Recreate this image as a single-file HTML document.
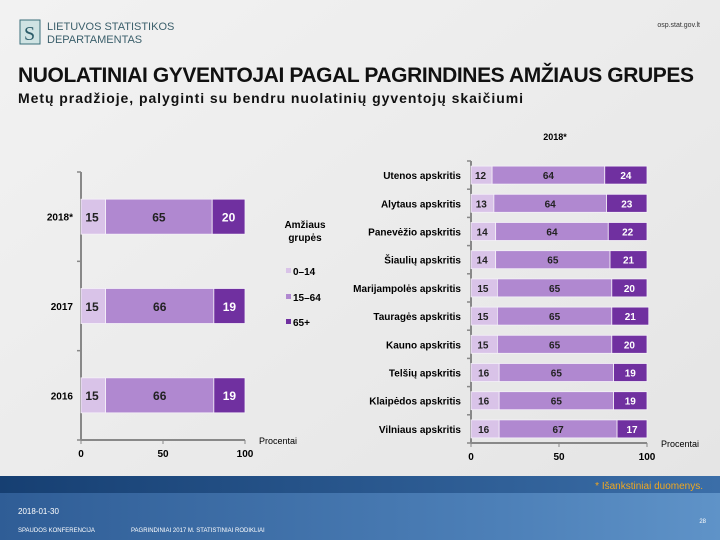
<!DOCTYPE html>
<html><head><meta charset="utf-8"><style>
body{margin:0;width:720px;height:540px;overflow:hidden;background:#ececec;font-family:"Liberation Sans",sans-serif}
svg{display:block}
</style></head><body>
<svg id="s" width="720" height="540">
<defs>
<linearGradient id="bg" x1="0" y1="0" x2="1" y2="1"><stop offset="0" stop-color="#f2f2f2"/><stop offset="1" stop-color="#e4e4e4"/></linearGradient>
<linearGradient id="ft" x1="0" y1="0" x2="1" y2="0"><stop offset="0" stop-color="#2f5d96"/><stop offset="0.7" stop-color="#4d80b8"/><stop offset="1" stop-color="#5f93c8"/></linearGradient>
<linearGradient id="ft2" x1="0" y1="0" x2="1" y2="0"><stop offset="0" stop-color="#163f72"/><stop offset="1" stop-color="#3b6ea8"/></linearGradient>
</defs>
<rect width="720" height="540" fill="url(#bg)"/>
<g>
<rect x="20" y="20" width="20" height="24" fill="#cfe3e3" stroke="#3a6f7a"/>
<text x="24" y="40" font-size="20" fill="#2c5d6a" font-family="Liberation Serif">S</text>
<text x="47" y="30" font-size="11" fill="#3b5f6b">LIETUVOS STATISTIKOS</text>
<text x="47" y="43" font-size="11" fill="#3b5f6b">DEPARTAMENTAS</text>
</g>
<text x="700" y="27" font-size="7" fill="#333" text-anchor="end">osp.stat.gov.lt</text>
<text x="18" y="82" font-size="21" font-weight="bold" fill="#111" textLength="676">NUOLATINIAI GYVENTOJAI PAGAL PAGRINDINES AMŽIAUS GRUPES</text>
<text x="18" y="103" font-size="14" font-weight="bold" fill="#111" textLength="505">Metų pradžioje, palyginti su bendru nuolatinių gyventojų skaičiumi</text>
<g id="left"></g>
<g id="right"></g>
<g>
<text x="305" y="228" font-size="10" font-weight="bold" text-anchor="middle">Amžiaus</text>
<text x="305" y="241" font-size="10" font-weight="bold" text-anchor="middle">grupės</text>
<rect x="286" y="268" width="5" height="5" fill="#d9c3e8"/><text x="293" y="275" font-size="10" font-weight="bold">0–14</text>
<rect x="286" y="294" width="5" height="5" fill="#b088d0"/><text x="293" y="301" font-size="10" font-weight="bold">15–64</text>
<rect x="286" y="319" width="5" height="5" fill="#7030a0"/><text x="293" y="326" font-size="10" font-weight="bold">65+</text>
</g>
<text x="555" y="140" font-size="9" font-weight="bold" text-anchor="middle">2018*</text>
<g>
<rect x="0" y="476" width="720" height="64" fill="url(#ft)"/>
<rect x="0" y="476" width="720" height="17" fill="url(#ft2)"/>
<text x="703" y="489" font-size="10" fill="#f0a820" text-anchor="end">* Išankstiniai duomenys.</text>
<text x="18" y="514" font-size="8" fill="#fff">2018-01-30</text>
<text x="18" y="532" font-size="6" fill="#fff">SPAUDOS KONFERENCIJA</text>
<text x="131" y="532" font-size="6" fill="#fff">PAGRINDINIAI 2017 M. STATISTINIAI RODIKLIAI</text>
<text x="706" y="523" font-size="6" fill="#fff" text-anchor="end">28</text>
</g>
</svg>
<script>
const leftCats=["2018*","2017","2016"];
const leftA=[15,15,15];
const leftB=[65,66,66];
const leftC=[20,19,19];
const rightCats=["Utenos apskritis","Alytaus apskritis","Panevėžio apskritis","Šiaulių apskritis","Marijampolės apskritis","Tauragės apskritis","Kauno apskritis","Telšių apskritis","Klaipėdos apskritis","Vilniaus apskritis"];
const rightA=[12,13,14,14,15,15,15,16,16,16];
const rightB=[64,64,64,65,65,65,65,65,65,67];
const rightC=[24,23,22,21,20,21,20,19,19,17];
const ticks=[0,50,100];
const cols=["#d9c3e8","#b088d0","#7030a0"];
const NS="http://www.w3.org/2000/svg";
function mk(p,t,a,txt){const e=document.createElementNS(NS,t);for(const k in a)e.setAttribute(k,a[k]);if(txt!==undefined)e.textContent=txt;p.appendChild(e);return e;}
function chart(g,cats,series,x0,x1,yTop,yBot,barH,labOff,valFs){
  const xs=v=>x0+(x1-x0)*v/100;
  const band=(yBot-yTop)/cats.length;
  const yc=i=>yTop+band*(i+0.5);
  mk(g,'line',{x1:x0,y1:yTop,x2:x0,y2:yBot,stroke:'#888','stroke-width':2});
  mk(g,'line',{x1:x0,y1:yBot,x2:x1,y2:yBot,stroke:'#888','stroke-width':2});
  for(let i=0;i<=cats.length;i++){mk(g,'line',{x1:x0-4,y1:yTop+band*i,x2:x0,y2:yTop+band*i,stroke:'#888','stroke-width':1.5});}
  ticks.forEach(t=>{mk(g,'line',{x1:xs(t),y1:yBot,x2:xs(t),y2:yBot+4,stroke:'#888'});
    const tl=mk(g,'text',{x:xs(t),y:yBot+17,'font-size':10,'font-weight':'bold','text-anchor':'middle'},t);
    
    });
  mk(g,'text',{x:x1+14,y:yBot+4,'font-size':9},'Procentai');
  cats.forEach((c,i)=>{
    const cl=mk(g,'text',{x:x0-labOff,y:yc(i)+4,'font-size':10,'font-weight':'bold','text-anchor':'end'},c);
    
    
    let acc=0;
    series.forEach((s,k)=>{
      const v=s[i];
      const r=mk(g,'rect',{x:xs(acc),y:yc(i)-barH/2,width:xs(acc+v)-xs(acc),height:barH,fill:cols[k],stroke:'#f4f0f8','stroke-width':0.8});
      
      
      const tx=k==0?xs(acc)+(xs(acc+v)-xs(acc))*0.45:xs(acc+v/2);
      const lb=mk(g,'text',{x:tx,y:yc(i)+valFs*0.4,'font-size':valFs,'font-weight':'bold','text-anchor':'middle',fill:k==2?'#fff':'#222'},v);
      
      
      acc+=v;
    });
  });
}
chart(document.getElementById('left'),leftCats,[leftA,leftB,leftC],81,245,172,440,35,8,12);
chart(document.getElementById('right'),rightCats,[rightA,rightB,rightC],471,647,161,443,18,10,10);
</script>
</body></html>
